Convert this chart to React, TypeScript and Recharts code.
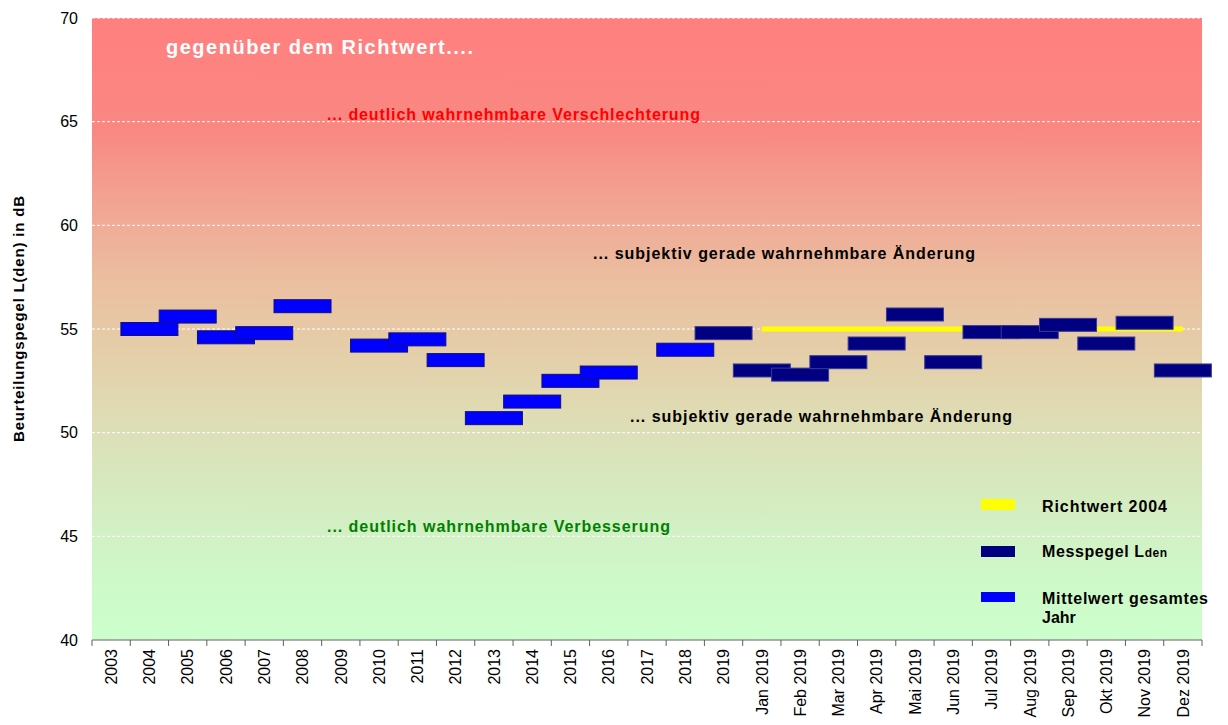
import { CartesianGrid, ComposedChart, Scatter, XAxis, YAxis } from "recharts"

const CATEGORIES = [
  "2003", "2004", "2005", "2006", "2007", "2008", "2009", "2010", "2011", "2012",
  "2013", "2014", "2015", "2016", "2017", "2018", "2019",
  "Jan 2019", "Feb 2019", "Mar 2019", "Apr 2019", "Mai 2019", "Jun 2019",
  "Jul 2019", "Aug 2019", "Sep 2019", "Okt 2019", "Nov 2019", "Dez 2019",
]

// Mittelwert gesamtes Jahr (blau)
const MITTELWERT: (number | null)[] = [
  null, 55.0, 55.6, 54.6, 54.8, 56.1, null, 54.2, 54.5, 53.5,
  50.7, 51.5, 52.5, 52.9, null, 54.0, null,
  null, null, null, null, null, null, null, null, null, null, null, null,
]

// Messpegel Lden (dunkelblau)
const MESSPEGEL: (number | null)[] = [
  null, null, null, null, null, null, null, null, null, null,
  null, null, null, null, null, null, 54.8,
  53.0, 52.8, 53.4, 54.3, 55.7, 53.4, 54.85, 54.85, 55.2, 54.3, 55.3, 53.0,
]

// Richtwert 2004
const RICHTWERT: (number | null)[] = [
  null, null, null, null, null, null, null, null, null, null,
  null, null, null, null, null, null, null,
  55, 55, 55, 55, 55, 55, 55, 55, 55, 55, 55, 55,
]

const Y_TICKS = [40, 45, 50, 55, 60, 65, 70]

const FONT = "'Liberation Sans', Arial, Helvetica, sans-serif"

const toPoints = (vals: (number | null)[]) =>
  vals
    .map((v, i) => (v === null ? null : { x: i + 0.5, y: v }))
    .filter((p): p is { x: number; y: number } => p !== null)

// ticks: integers = separators between categories, halves = labels
const X_TICKS = Array.from({ length: CATEGORIES.length * 2 + 1 }, (_, i) => i / 2)

function XTick({ x, y, payload }: any) {
  const v = payload.value as number
  if (Number.isInteger(v)) {
    return <line x1={x} y1={y - 8} x2={x} y2={y - 2} stroke="#606060" strokeWidth={1} />
  }
  return (
    <text
      x={x}
      y={y + 1}
      dy="0.36em"
      transform={`rotate(-90 ${x} ${y + 1})`}
      textAnchor="end"
      fontSize={16}
      fontFamily={FONT}
      fill="#000"
    >
      {CATEGORIES[Math.floor(v)]}
    </text>
  )
}

function barShape(fill: string, stroke: string) {
  return (p: any) => (
    <rect x={p.cx - 28.5} y={p.cy - 6.5} width={57} height={13} fill={fill} stroke={stroke} strokeWidth={1} />
  )
}

export default function App() {
  return (
    <div style={{ position: "relative", width: 1228, height: 725, fontFamily: FONT }}>
      <style>{"body{margin:0}"}</style>
      <ComposedChart width={1228} height={725} margin={{ top: 18, right: 26, bottom: 0, left: 0 }}>
        <defs>
          <linearGradient id="bg" x1="0" y1="0" x2="0" y2="1">
            <stop offset="0%" stopColor="#FF7F7F" />
            <stop offset="18%" stopColor="#F98882" />
            <stop offset="28%" stopColor="#F3A090" />
            <stop offset="42%" stopColor="#EBBEA0" />
            <stop offset="55%" stopColor="#E4D0AA" />
            <stop offset="68%" stopColor="#DCE1B9" />
            <stop offset="80%" stopColor="#D3EEC2" />
            <stop offset="90%" stopColor="#CEF8C8" />
            <stop offset="100%" stopColor="#CCFFCC" />
          </linearGradient>
        </defs>
        <CartesianGrid
          vertical={false}
          fill="url(#bg)"
          fillOpacity={1}
          stroke="#ffffff"
          strokeDasharray="3 2"
        />
        <XAxis
          type="number"
          dataKey="x"
          domain={[0, CATEGORIES.length]}
          ticks={X_TICKS}
          interval={0}
          height={85}
          tickLine={false}
          axisLine={{ stroke: "#606060" }}
          tick={<XTick />}
        />
        <YAxis
          type="number"
          dataKey="y"
          domain={[40, 70]}
          ticks={Y_TICKS}
          width={92}
          axisLine={false}
          tickLine={false}
          tickMargin={8}
          tick={{ fontSize: 16, fill: "#000", fontFamily: FONT }}
        />
        <Scatter
          data={toPoints(RICHTWERT)}
          dataKey="y"
          fill="#FFFF00"
          line={{ stroke: "#FFFF00", strokeWidth: 5 }}
          shape={() => <g />}
          isAnimationActive={false}
        />
        <Scatter
          data={toPoints(MITTELWERT)}
          dataKey="y"
          fill="#0000FF"
          shape={barShape("#0000FF", "#10107a")}
          isAnimationActive={false}
        />
        <Scatter
          data={toPoints(MESSPEGEL)}
          dataKey="y"
          fill="#000080"
          shape={barShape("#000080", "#3a3a96")}
          isAnimationActive={false}
        />
      </ComposedChart>

      <svg
        width={1228}
        height={725}
        style={{ position: "absolute", left: 0, top: 0, pointerEvents: "none" }}
        fontFamily={FONT}
        fontWeight="bold"
      >
        <text
          x={24}
          y={442}
          transform="rotate(-90 24 442)"
          fontSize={15}
          textLength={246}
          lengthAdjust="spacing"
          fill="#000"
        >
          Beurteilungspegel L(den) in dB
        </text>

        <text x={166} y={54} fontSize={20} fill="#fff" textLength={307} lengthAdjust="spacing">
          gegenüber dem Richtwert....
        </text>
        <text x={327} y={120} fontSize={16} fill="#FF0000" textLength={373} lengthAdjust="spacing">
          ... deutlich wahrnehmbare Verschlechterung
        </text>
        <text x={593} y={259} fontSize={16} fill="#000" textLength={382} lengthAdjust="spacing">
          ... subjektiv gerade wahrnehmbare Änderung
        </text>
        <text x={630} y={422} fontSize={16} fill="#000" textLength={382} lengthAdjust="spacing">
          ... subjektiv gerade wahrnehmbare Änderung
        </text>
        <text x={327} y={532} fontSize={16} fill="#008000" textLength={343} lengthAdjust="spacing">
          ... deutlich wahrnehmbare Verbesserung
        </text>

        {/* legend */}
        <rect x={981} y={499} width={34} height={11} fill="#FFFF00" />
        <text x={1042} y={512} fontSize={16} fill="#000" textLength={125} lengthAdjust="spacing">
          Richtwert 2004
        </text>
        <rect x={981} y={546} width={34} height={11} fill="#000080" />
        <text x={1042} y={557} fontSize={16} fill="#000" letterSpacing={0.6}>
          Messpegel L<tspan fontSize={12}>den</tspan>
        </text>
        <rect x={981} y={592} width={34} height={10} fill="#0000FF" />
        <text x={1042} y={604} fontSize={16} fill="#000" textLength={166} lengthAdjust="spacing">
          Mittelwert gesamtes
        </text>
        <text x={1042} y={623} fontSize={16} fill="#000">
          Jahr
        </text>
      </svg>
    </div>
  )
}
